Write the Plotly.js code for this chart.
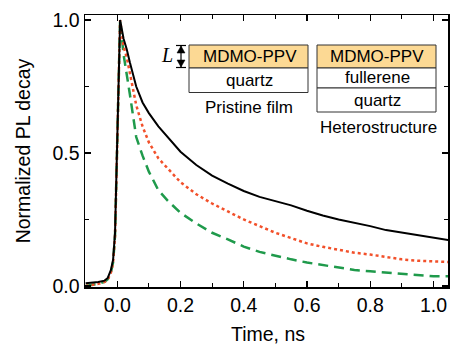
<!DOCTYPE html>
<html><head><meta charset="utf-8">
<script src="https://cdn.plot.ly/plotly-3.0.1.min.js"></script>
<style>html,body{margin:0;padding:0;background:#fff}#c{width:450px;height:345px}</style>
</head><body><div id="c"></div>
<script>
var time = [-0.1,-0.08,-0.06,-0.04,-0.03,-0.02,-0.013,-0.007,-0.002,0.003,0.009,0.02,0.03,0.04,0.06,0.08,0.1,0.13,0.16,0.2,0.25,0.3,0.35,0.4,0.45,0.5,0.55,0.6,0.65,0.7,0.75,0.8,0.85,0.9,0.95,1.0,1.05];
var pristine = [0.01,0.012,0.015,0.02,0.03,0.06,0.1,0.2,0.45,0.76,1.0,0.93,0.89,0.84,0.75,0.69,0.65,0.6,0.56,0.505,0.455,0.415,0.385,0.357,0.335,0.32,0.303,0.283,0.265,0.25,0.238,0.225,0.21,0.2,0.19,0.18,0.172];
var hetero1 = [0.0,0.003,0.008,0.015,0.025,0.05,0.09,0.19,0.44,0.75,1.0,0.9,0.86,0.8,0.68,0.6,0.54,0.48,0.44,0.39,0.345,0.31,0.28,0.25,0.225,0.2,0.18,0.16,0.147,0.135,0.125,0.118,0.11,0.1,0.095,0.092,0.09];
var hetero2 = [0.0,0.003,0.008,0.015,0.025,0.05,0.09,0.19,0.44,0.75,1.0,0.87,0.8,0.72,0.56,0.49,0.43,0.36,0.32,0.275,0.235,0.2,0.175,0.148,0.128,0.113,0.1,0.088,0.078,0.068,0.06,0.055,0.05,0.045,0.04,0.036,0.036];
var xTickVals = [0,0.2,0.4,0.6,0.8,1.0];
var yTickVals = [0,0.5,1.0];
var xTitle = 'Time, ns';
var yTitle = 'Normalized PL decay';

var L=85,R=448,T=15,B=287;
function px(x){return (x-L)/(R-L);}
function py(y){return (B-y)/(B-T);}

var traces = [
  {x:time,y:hetero2,mode:'lines',line:{color:'#1f9a4b',width:2.5,dash:'10px,6px'},hoverinfo:'skip'},
  {x:time,y:hetero1,mode:'lines',line:{color:'#f2502a',width:2.5,dash:'3px,3px'},hoverinfo:'skip'},
  {x:time,y:pristine,mode:'lines',line:{color:'#000',width:2},hoverinfo:'skip'}
];

function rect(x0,y0,x1,y1,fill){return {type:'rect',xref:'paper',yref:'paper',x0:px(x0),x1:px(x1),y0:py(y0),y1:py(y1),line:{color:'#333',width:1},fillcolor:fill,layer:'above'};}
function seg(x0,y0,x1,y1){return {type:'line',xref:'paper',yref:'paper',x0:px(x0),x1:px(x1),y0:py(y0),y1:py(y1),line:{color:'#000',width:1.2},layer:'above'};}
function tri(pts){var s='M';for(var i=0;i<pts.length;i++){s+=(i?' L':'')+px(pts[i][0])+','+py(pts[i][1]);}return {type:'path',xref:'paper',yref:'paper',path:s+' Z',fillcolor:'#000',line:{color:'#000',width:0.5},layer:'above'};}

var shapes = [
  rect(189,45,308,68,'#fcd994'),
  rect(189,68,308,92.5,'#fff'),
  rect(317,45,436,68,'#fcd994'),
  rect(317,68,436,88,'#fff'),
  rect(317,88,436,112,'#fff'),
  seg(181,46,181,67),
  seg(176,45.5,186,45.5),
  seg(176,67.5,186,67.5),
  tri([[181,46],[177,53],[185,53]]),
  tri([[181,67],[177,60],[185,60]])
];

function ann(x,y,t,size,fam){return {xref:'paper',yref:'paper',x:px(x),y:py(y),text:t,showarrow:false,xanchor:'center',yanchor:'middle',font:{family:fam||'Liberation Sans, Arial, sans-serif',size:size||14,color:'#000'}};}
var annotations = [
  ann(250,56.5,'MDMO-PPV',17),
  ann(249,80,'quartz',17),
  ann(249,107,'Pristine film',17),
  ann(377,56.5,'MDMO-PPV',17),
  ann(377,78,'fullerene',17),
  ann(377,100,'quartz',17),
  ann(378,127,'Heterostructure',17),
  ann(167,55,'<i>L</i>',20,'Liberation Serif, Times New Roman, serif'),
  ann(268,334,xTitle,19.5)
];

var axFont = {family:'Liberation Sans, Arial, sans-serif',size:19.5,color:'#000'};
var layout = {
  width:450,height:345,
  margin:{l:L,r:450-R,t:T,b:345-B,pad:0},
  paper_bgcolor:'#fff',plot_bgcolor:'#fff',
  showlegend:false,
  xaxis:{range:[-0.102,1.046],tickvals:xTickVals,tickformat:'.1f',ticks:'inside',ticklen:6,tickwidth:1.3,tickcolor:'#000',
    minor:{dtick:0.1,ticklen:4,tickwidth:1.2,tickcolor:'#000',ticks:'inside',showgrid:false},
    showline:true,linecolor:'#000',linewidth:1.5,mirror:'ticks',showgrid:false,zeroline:false,tickfont:axFont},
  yaxis:{range:[-0.004,1.019],tickvals:yTickVals,tickformat:'.1f',ticks:'inside',ticklen:6,tickwidth:1.3,tickcolor:'#000',
    minor:{dtick:0.25,ticklen:4,tickwidth:1.2,tickcolor:'#000',ticks:'inside',showgrid:false},
    showline:true,linecolor:'#000',linewidth:1.5,mirror:'ticks',showgrid:false,zeroline:false,tickfont:axFont,
    title:{text:yTitle,font:axFont,standoff:16}},
  shapes:shapes,annotations:annotations
};
Plotly.newPlot('c',traces,layout,{staticPlot:true,displayModeBar:false});
</script></body></html>
